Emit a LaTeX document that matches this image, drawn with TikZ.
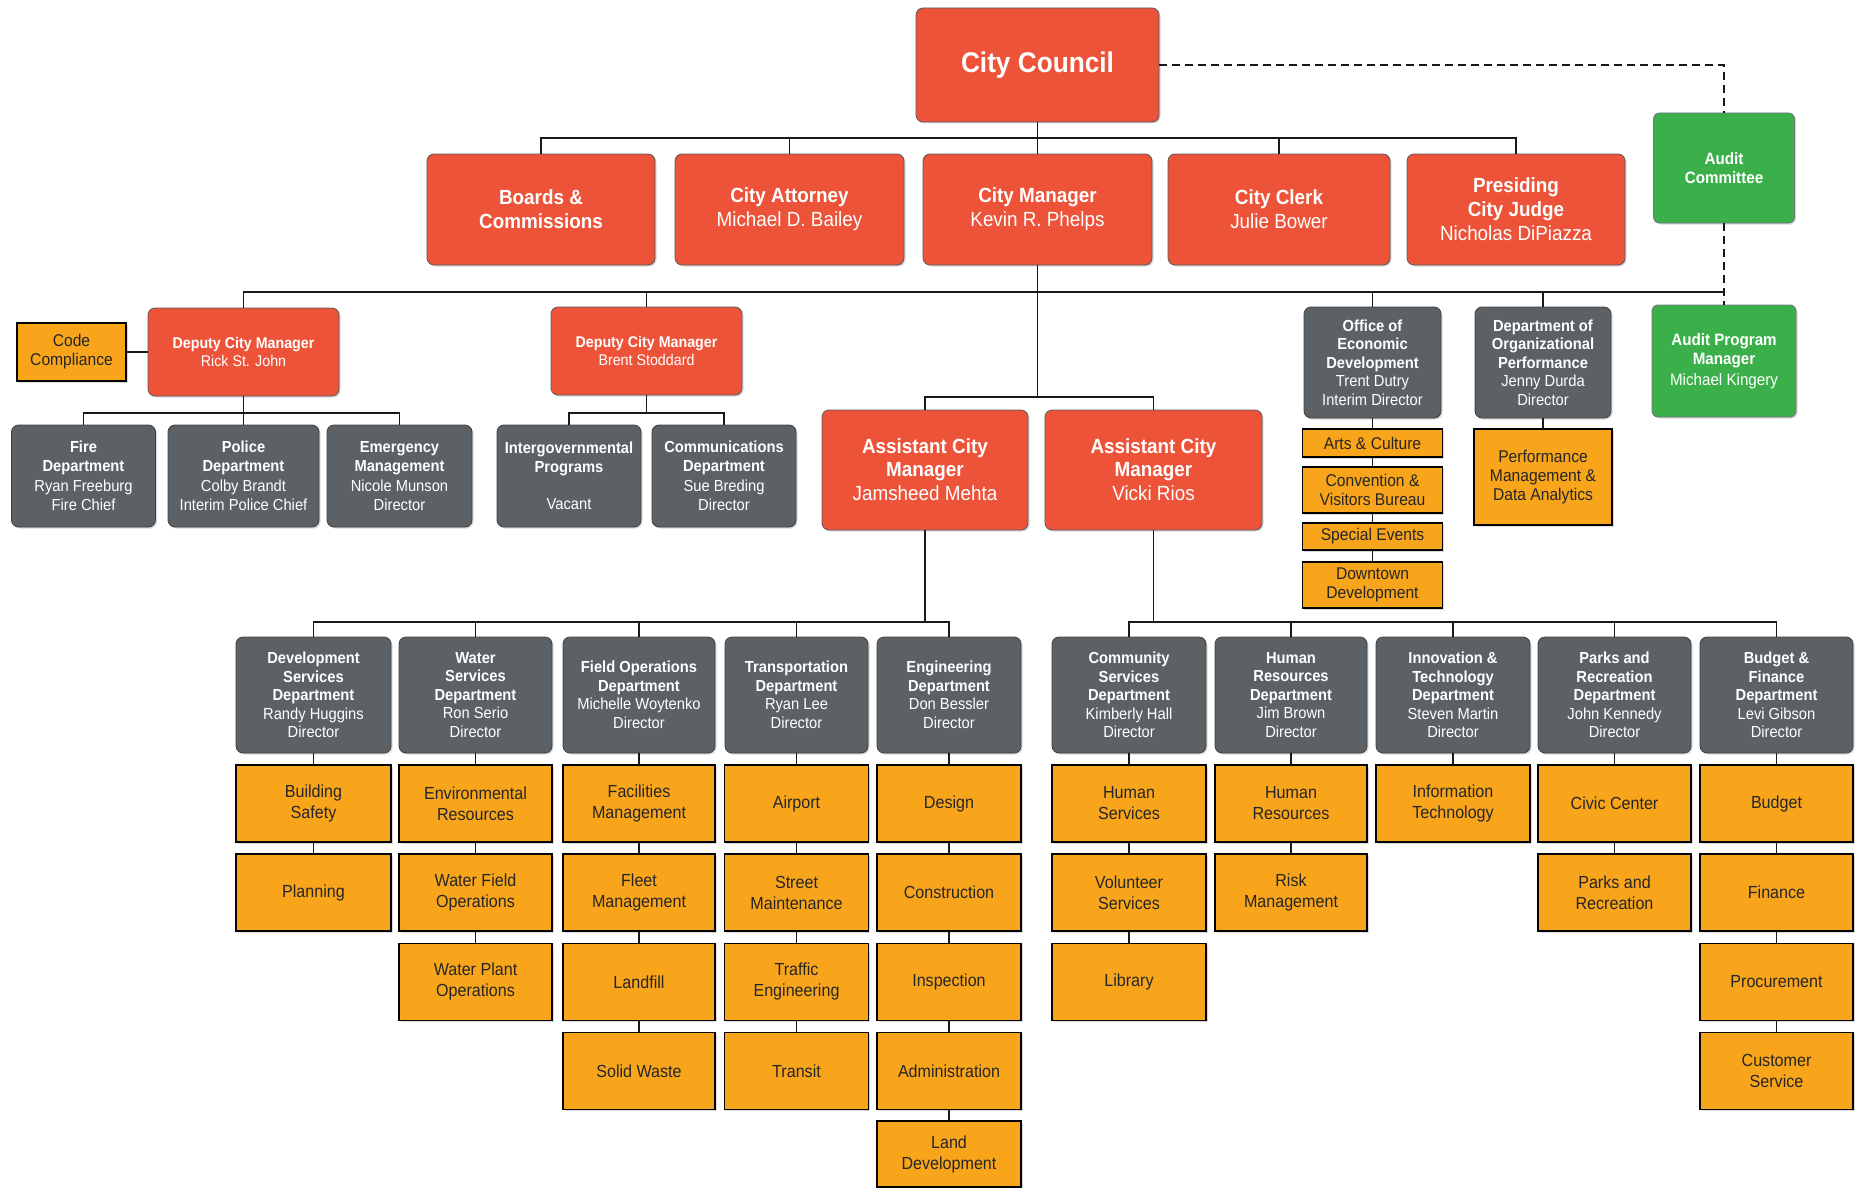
\documentclass[tikz,border=0pt]{standalone}
\usepackage{fontspec}
\setmainfont{Liberation Sans}[FakeStretch=0.92]
\usetikzlibrary{shadows}

\definecolor{cityred}{HTML}{EC5339}
\definecolor{deptgray}{HTML}{5C6166}
\definecolor{unitorange}{HTML}{F8A51B}
\definecolor{auditgreen}{HTML}{3BB04A}

% column of orange units hanging below a department
\newcommand\unitcol[3]{%
  \foreach \txt [count=\i] in {#3} {
    \pgfmathsetmacro\rowy{803.5+(\i-1)*89.2}
    \node[unit, minimum width=#2] (#1-\i) at (#1.center |- 0,\rowy) {\txt};
    \ifnum\i>1
      \pgfmathtruncatemacro\j{\i-1}
      \draw[link] (#1-\j.south) -- (#1-\i.north);
    \fi
  }
  \draw[link] (#1.south) -- (#1-1.north);
}

\begin{document}
\begin{tikzpicture}[x=1pt,y=-1pt,
  box/.style={align=center, inner sep=2pt, drop shadow={opacity=0.3, shadow xshift=1.5pt, shadow yshift=-1.5pt}},
  office/.style={box, rounded corners=7pt, fill=cityred, draw=black!65, line width=0.8pt, text=white,
    font=\fontsize{20.5}{24}\selectfont, minimum height=111},
  deputy/.style={office, font=\fontsize{15.5}{18.5}\selectfont, minimum width=191, minimum height=88},
  acm/.style={office, font=\fontsize{20.5}{22.5}\selectfont, minimum height=120},
  dept/.style={box, rounded corners=7pt, fill=deptgray, draw=black!75, line width=0.8pt, text=white,
    font=\fontsize{16}{18.5}\selectfont, minimum height=116},
  audit/.style={box, rounded corners=6pt, fill=auditgreen, draw=black!55, line width=0.8pt, text=white,
    font=\fontsize{16.5}{19}\selectfont, minimum height=110},
  unit/.style={box, fill=unitorange, draw=black, line width=1.7pt, text=black!85,
    font=\fontsize{17.5}{21}\selectfont, minimum height=77},
  chain/.style={unit, font=\fontsize{17}{19}\selectfont, minimum width=140},
  link/.style={draw=black!90, line width=1.7pt},
  auditlink/.style={draw=black!90, line width=1.6pt, dash pattern=on 8pt off 5pt}]
  \useasboundingbox (0,0) rectangle (1860,1188);
  \pgfmathsetmacro\busA{138}   % council level
  \pgfmathsetmacro\busB{292}   % city manager level
  \pgfmathsetmacro\busC{413}   % deputy level
  \pgfmathsetmacro\busD{397}   % assistant level
  \pgfmathsetmacro\busE{622}   % department level

% council and appointees
  \node[office, font=\bfseries\fontsize{28.5}{32}\selectfont, minimum width=243, minimum height=114] (council) at (1037.5,65) {City Council};
  \node[office, minimum width=228] (boards)   at (541,209.5)  {\textbf{Boards \&}\\\textbf{Commissions}};
  \node[office, minimum width=229] (attorney) at (789.5,209.5) {\textbf{City Attorney}\\Michael D. Bailey};
  \node[office, minimum width=229] (manager)  at (1037.5,209.5) {\textbf{City Manager}\\Kevin R. Phelps};
  \node[office, minimum width=222] (clerk)    at (1279,209.5) {\textbf{City Clerk}\\Julie Bower};
  \node[office, minimum width=218] (judge)    at (1516,209.5) {\textbf{Presiding}\\\textbf{City Judge}\\Nicholas DiPiazza};
  \node[audit, minimum width=141] (auditcom)  at (1724,168) {\textbf{Audit}\\\textbf{Committee}};

  \draw[link] (council.south) -- (manager.north);
  \draw[link] (boards.north) |- (judge.north |- 0,\busA) -- (judge.north);
  \draw[link] (attorney.north) -- (attorney.north |- 0,\busA);
  \draw[link] (clerk.north) -- (clerk.north |- 0,\busA);
  \draw[auditlink] (council.east) -| (auditcom.north);

% deputy city managers
  \node[deputy] (rick)  at (243.5,352) {\textbf{Deputy City Manager}\\Rick St. John};
  \node[deputy] (brent) at (646.5,351) {\textbf{Deputy City Manager}\\Brent Stoddard};
  \node[unit, font=\fontsize{17}{19}\selectfont, minimum width=109, minimum height=58] (code) at (71.5,352) {Code\\Compliance};
  \draw[link] (code.east) -- (rick.west);

  \node[dept, minimum width=144, minimum height=102] (fire)     at (83.5,476)  {\textbf{Fire}\\\textbf{Department}\\[2pt]Ryan Freeburg\\Fire Chief};
  \node[dept, minimum width=151, minimum height=102] (police)   at (243.5,476) {\textbf{Police}\\\textbf{Department}\\[2pt]Colby Brandt\\Interim Police Chief};
  \node[dept, minimum width=145, minimum height=102] (emerg)    at (399.5,476) {\textbf{Emergency}\\\textbf{Management}\\[2pt]Nicole Munson\\Director};
  \node[dept, minimum width=144, minimum height=102] (intergov) at (569,476)   {\textbf{Intergovernmental}\\\textbf{Programs}\\[19pt]Vacant};
  \node[dept, minimum width=144, minimum height=102] (comms)    at (724,476)   {\textbf{Communications}\\\textbf{Department}\\[2pt]Sue Breding\\Director};

  \draw[link] (rick.south) -- (police.north);
  \draw[link] (fire.north) |- (emerg.north |- 0,\busC) -- (emerg.north);
  \draw[link] (brent.south) -- (brent.south |- 0,\busC);
  \draw[link] (intergov.north) |- (comms.north |- 0,\busC) -- (comms.north);

% offices beside the assistants
  \node[dept, minimum width=137, minimum height=111] (econ) at (1372.5,362.5) {\textbf{Office of}\\\textbf{Economic}\\\textbf{Development}\\Trent Dutry\\Interim Director};
  \node[dept, minimum width=136, minimum height=111] (perf) at (1543,362.5) {\textbf{Department of}\\\textbf{Organizational}\\\textbf{Performance}\\Jenny Durda\\Director};
  \node[audit, minimum width=144, minimum height=112] (apm) at (1724,361) {\textbf{Audit Program}\\\textbf{Manager}\\[2pt]Michael Kingery};

  \node[chain, minimum height=28] (arts)     at (1372.5,443)   {Arts \& Culture};
  \node[chain, minimum height=46] (conv)     at (1372.5,490)   {Convention \&\\Visitors Bureau};
  \node[chain, minimum height=27] (special)  at (1372.5,536.5) {Special Events};
  \node[chain, minimum height=46] (downtown) at (1372.5,585)   {Downtown\\Development};
  \node[chain, minimum width=138, minimum height=96] (perfmgmt) at (1543,477) {Performance\\Management \&\\Data Analytics};

  \draw[link] (econ.south) -- (arts.north);
  \draw[link] (arts.south) -- (conv.north);
  \draw[link] (conv.south) -- (special.north);
  \draw[link] (special.south) -- (downtown.north);
  \draw[link] (perf.south) -- (perfmgmt.north);

  \draw[link] (rick.north) |- (auditcom.south |- 0,\busB);
  \draw[link] (brent.north) -- (brent.north |- 0,\busB);
  \draw[link] (econ.north) -- (econ.north |- 0,\busB);
  \draw[link] (perf.north) -- (perf.north |- 0,\busB);
  \draw[auditlink] (auditcom.south) -- (apm.north);

% assistant city managers
  \node[acm, minimum width=206] (acmJ) at (925,470)    {\textbf{Assistant City}\\\textbf{Manager}\\[2pt]Jamsheed Mehta};
  \node[acm, minimum width=217] (acmV) at (1153.5,470) {\textbf{Assistant City}\\\textbf{Manager}\\[2pt]Vicki Rios};
  \draw[link] (manager.south) -- (manager.south |- 0,\busD);
  \draw[link] (acmJ.north) |- (acmV.north |- 0,\busD) -- (acmV.north);

% departments
  \node[dept, minimum width=155] (dev)    at (313.5,695)  {\textbf{Development}\\\textbf{Services}\\\textbf{Department}\\Randy Huggins\\Director};
  \node[dept, minimum width=153] (water)  at (475.5,695)  {\textbf{Water}\\\textbf{Services}\\\textbf{Department}\\Ron Serio\\Director};
  \node[dept, minimum width=152] (field)  at (639,695)    {\textbf{Field Operations}\\\textbf{Department}\\Michelle Woytenko\\Director};
  \node[dept, minimum width=143] (transp) at (796.5,695)  {\textbf{Transportation}\\\textbf{Department}\\Ryan Lee\\Director};
  \node[dept, minimum width=144] (eng)    at (949,695)    {\textbf{Engineering}\\\textbf{Department}\\Don Bessler\\Director};
  \node[dept, minimum width=154] (comm)   at (1129,695)   {\textbf{Community}\\\textbf{Services}\\\textbf{Department}\\Kimberly Hall\\Director};
  \node[dept, minimum width=152] (hr)     at (1291,695)   {\textbf{Human}\\\textbf{Resources}\\\textbf{Department}\\Jim Brown\\Director};
  \node[dept, minimum width=154] (innov)  at (1453,695)   {\textbf{Innovation \&}\\\textbf{Technology}\\\textbf{Department}\\Steven Martin\\Director};
  \node[dept, minimum width=153] (parks)  at (1614.5,695) {\textbf{Parks and}\\\textbf{Recreation}\\\textbf{Department}\\John Kennedy\\Director};
  \node[dept, minimum width=153] (budget) at (1776.5,695) {\textbf{Budget \&}\\\textbf{Finance}\\\textbf{Department}\\Levi Gibson\\Director};

  \draw[link] (acmJ.south) -- (acmJ.south |- 0,\busE);
  \draw[link] (dev.north) |- (eng.north |- 0,\busE) -- (eng.north);
  \foreach \d in {water,field,transp}
    \draw[link] (\d.north) -- (\d.north |- 0,\busE);
  \draw[link] (acmV.south) -- (acmV.south |- 0,\busE);
  \draw[link] (comm.north) |- (budget.north |- 0,\busE) -- (budget.north);
  \foreach \d in {hr,innov,parks}
    \draw[link] (\d.north) -- (\d.north |- 0,\busE);

% units
  \unitcol{dev}{155}{Building\\Safety, Planning}
  \unitcol{water}{153}{Environmental\\Resources, Water Field\\Operations, Water Plant\\Operations}
  \unitcol{field}{152}{Facilities\\Management, Fleet\\Management, Landfill, Solid Waste}
  \unitcol{transp}{144}{Airport, Street\\Maintenance, Traffic\\Engineering, Transit}
  \unitcol{eng}{144}{Design, Construction, Inspection, Administration}
  \node[unit, minimum width=144, minimum height=66] (eng-5) at (949,1154) {Land\\Development};
  \draw[link] (eng-4.south) -- (eng-5.north);
  \unitcol{comm}{154}{Human\\Services, Volunteer\\Services, Library}
  \unitcol{hr}{152}{Human\\Resources, Risk\\Management}
  \unitcol{innov}{154}{Information\\Technology}
  \unitcol{parks}{153}{Civic Center, Parks and\\Recreation}
  \unitcol{budget}{153}{Budget, Finance, Procurement, Customer\\Service}
\end{tikzpicture}
\end{document}
